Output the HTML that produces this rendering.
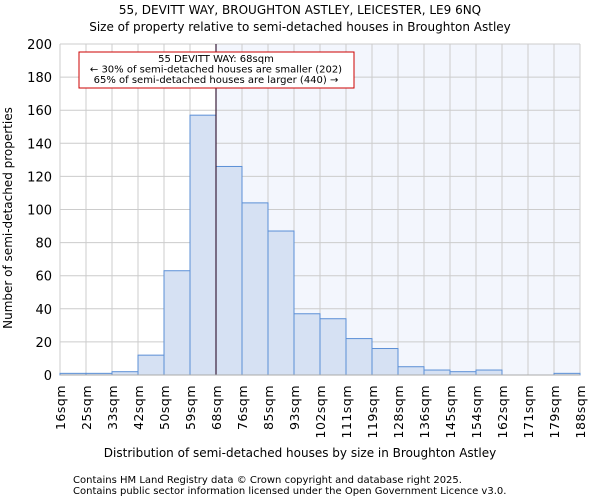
<!DOCTYPE html>
<html><head><meta charset="utf-8"><style>
body{margin:0;background:#fff;font-family:"DejaVu Sans","Liberation Sans",sans-serif;}
</style></head><body>
<svg id="chart" width="600" height="500" xmlns="http://www.w3.org/2000/svg" font-family="DejaVu Sans, Liberation Sans, sans-serif">
<text x="300" y="14" font-size="12" text-anchor="middle">55, DEVITT WAY, BROUGHTON ASTLEY, LEICESTER, LE9 6NQ</text>
<text x="300" y="31" font-size="12" text-anchor="middle">Size of property relative to semi-detached houses in Broughton Astley</text>
<g id="plot"></g>
<text x="300" y="457" font-size="12" text-anchor="middle">Distribution of semi-detached houses by size in Broughton Astley</text>
<text transform="translate(12,218) rotate(-90)" font-size="12" text-anchor="middle">Number of semi-detached properties</text>
<text x="73" y="483" font-size="10">Contains HM Land Registry data © Crown copyright and database right 2025.</text>
<text x="73" y="494" font-size="10">Contains public sector information licensed under the Open Government Licence v3.0.</text>
</svg>
<script>
const labels=["16sqm","25sqm","33sqm","42sqm","50sqm","59sqm","68sqm","76sqm","85sqm","93sqm","102sqm","111sqm","119sqm","128sqm","136sqm","145sqm","154sqm","162sqm","171sqm","179sqm","188sqm"];
const counts=[1,1,2,12,63,157,126,104,87,37,34,22,16,5,3,2,3,0,0,1];
const yTicks=[0,20,40,60,80,100,120,140,160,180,200];
const markerIndex=6;
const NS="http://www.w3.org/2000/svg";
const g=document.getElementById('plot');
const L=60,R=580,T=44,B=375,yMax=200;
const bw=(R-L)/counts.length;
const xs=i=>L+i*bw;
const ys=v=>B-(v/yMax)*(B-T);
function mk(t,a){const e=document.createElementNS(NS,t);for(const k in a)e.setAttribute(k,a[k]);g.appendChild(e);return e;}
let e=mk('rect',{x:xs(markerIndex),y:T,width:R-xs(markerIndex),height:B-T,fill:'#f3f6fd'});


yTicks.forEach(v=>{
 const l=mk('line',{x1:L,x2:R,y1:ys(v),y2:ys(v),stroke:'#cccccc'});
 
 
 const t=mk('text',{x:L-8,y:ys(v)+5,'font-size':13,'text-anchor':'end'});t.textContent=v;
 
 
});
labels.forEach((s,i)=>{
 const l=mk('line',{x1:xs(i),x2:xs(i),y1:T,y2:B,stroke:'#cccccc'});
 
 
 const t=mk('text',{transform:`translate(${xs(i)+5},${B+10}) rotate(-90)`,'font-size':12.5,'letter-spacing':'0.5','text-anchor':'end'});t.textContent=s;
 
 
});
counts.forEach((c,i)=>{
 if(c<=0)return;
 const r=mk('rect',{x:xs(i),y:ys(c),width:bw,height:B-ys(c),fill:'#d6e1f3',stroke:'#5b8fd6','stroke-width':1});
 
 
});
e=mk('line',{x1:xs(markerIndex),x2:xs(markerIndex),y1:T,y2:B,stroke:'#3a1f3a','stroke-width':1.2});


e=mk('line',{x1:L,x2:R,y1:B,y2:B,stroke:'#aaaaaa'});


e=mk('rect',{x:79,y:52,width:275,height:36,fill:'#fff',stroke:'#cc0000'});


["55 DEVITT WAY: 68sqm","← 30% of semi-detached houses are smaller (202)","65% of semi-detached houses are larger (440) →"].forEach((s,i)=>{
 const t=mk('text',{x:216,y:62+i*10.5,'font-size':10,'text-anchor':'middle'});t.textContent=s;
 
 
});
</script>
</body></html>
